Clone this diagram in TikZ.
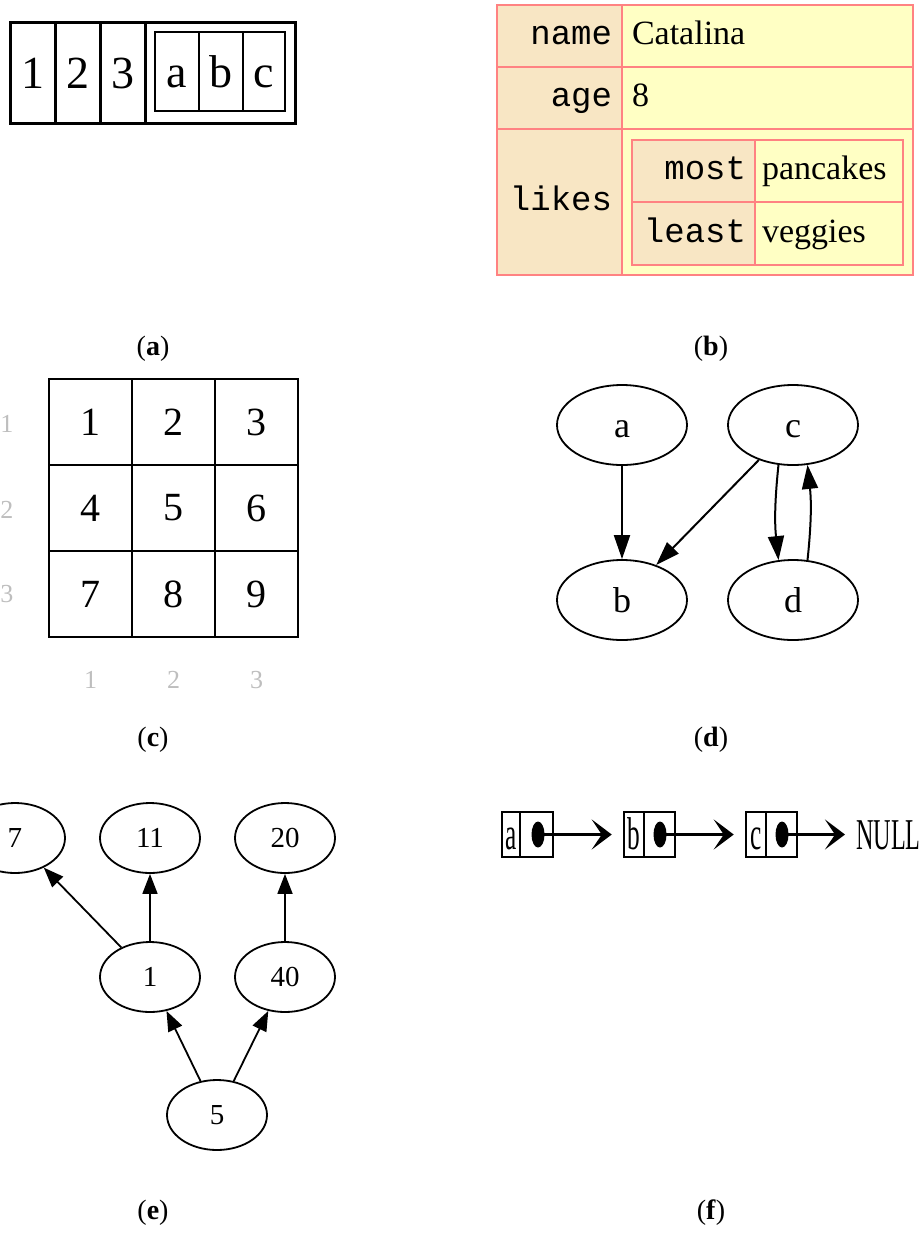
\documentclass[tikz,border=0pt]{standalone}
\usepackage{fontspec}
\setmainfont{Liberation Serif}
\setmonofont{Liberation Mono}
\newfontfamily\narrowfont[FakeStretch=0.55]{Liberation Serif}
\usetikzlibrary{arrows.meta,shapes.geometric}
\definecolor{tabline}{RGB}{255,130,130}
\definecolor{tabkey}{RGB}{248,230,196}
\definecolor{tabval}{RGB}{255,255,196}
\definecolor{gridgray}{RGB}{190,190,190}
\newcommand{\px}[1]{\fontsize{#1}{#1}\selectfont}

\begin{document}
\begin{tikzpicture}[
		x=1pt, y=-1pt,
		arrcell/.style={draw, line width=3pt, inner sep=0pt, minimum height=101pt, text height=31pt, text depth=0pt, font=\px{46}},
		subcell/.style={draw, line width=2.5pt, inner sep=0pt, minimum height=79pt, text height=31pt, text depth=0pt, font=\px{46}},
		keycell/.style={draw=tabline, fill=tabkey, line width=2pt, inner sep=0pt, text height=24pt, text depth=7pt, align=right, font=\ttfamily\px{34}},
		valcell/.style={draw=tabline, fill=tabval, line width=2pt, inner sep=0pt, text height=24pt, text depth=7pt, align=left, font=\px{34}},
		gridcell/.style={draw, line width=2.5pt, minimum width=83pt, minimum height=86pt, inner sep=0pt, font=\px{40}},
		gridlabel/.style={text=gridgray, font=\px{26}},
		gnode/.style={ellipse, draw, line width=1.8pt, inner sep=0pt},
		dnode/.style={gnode, minimum width=130pt, minimum height=80pt, text height=24pt, text depth=0pt, font=\px{36}},
		enode/.style={gnode, minimum width=100pt, minimum height=70pt, font=\px{29}},
		garrow/.style={-{Triangle[length=20pt,width=15pt]}, line width=1.8pt},
		darrow/.style={-{Triangle[length=24pt,width=16pt]}, line width=2pt},
		lcell/.style={draw, line width=2.5pt, inner sep=0pt, minimum height=45pt, text height=29pt, text depth=0pt, font=\narrowfont\px{46}},
		ptr/.style={ellipse, fill=black, inner sep=0pt, minimum width=13pt, minimum height=26pt},
		larrow/.style={-{Stealth[length=20pt,width=30pt,inset=10pt]}, line width=2.5pt, shorten >=11pt},
		caption/.style={font=\px{28}}
	]
	\useasboundingbox (0,0) rectangle (919,1243);

	% (a)
	\node[arrcell, minimum width=45pt] (a1) at (32.5,72.5) {1};
	\node[arrcell, minimum width=45.5pt] (a2) at (77.75,72.5) {2};
	\node[arrcell, minimum width=45pt] (a3) at (123,72.5) {3};
	\node[arrcell, minimum width=149.5pt] (aout) at (220.25,72.5) {};
	\node[subcell, minimum width=44pt] (aa) at (177,71.5) {a};
	\node[subcell, minimum width=44pt] (ab) at (221,71.5) {b};
	\node[subcell, minimum width=42pt] (ac) at (264,71.5) {c};

	% (b)
	\node[keycell, minimum width=125pt, minimum height=62pt, text width=105pt] (kname) at (559.5,36) {name};
	\node[valcell, minimum width=291pt, minimum height=62pt, text width=271pt] (vname) at (767.5,36) {Catalina};
	\node[keycell, minimum width=125pt, minimum height=62pt, text width=105pt] (kage) at (559.5,98) {age};
	\node[valcell, minimum width=291pt, minimum height=62pt, text width=271pt] (vage) at (767.5,98) {8};
	\node[keycell, minimum width=125pt, minimum height=146pt, text width=105pt] (klikes) at (559.5,202) {likes};
	\node[valcell, minimum width=291pt, minimum height=146pt] (vlikes) at (767.5,202) {};
	\node[keycell, minimum width=123pt, minimum height=62pt, text width=105pt] (kmost) at (693.5,171) {most};
	\node[valcell, minimum width=148pt, minimum height=62pt, text width=134pt] (vmost) at (829,171) {pancakes};
	\node[keycell, minimum width=123pt, minimum height=63pt, text width=105pt] (kleast) at (693.5,233.5) {least};
	\node[valcell, minimum width=148pt, minimum height=63pt, text width=134pt] (vleast) at (829,233.5) {veggies};

	% (c)
	\node[gridcell] (g1) at (90.5,422) {1};
	\node[gridcell] (g2) at (173.5,422) {2};
	\node[gridcell] (g3) at (256.5,422) {3};
	\node[gridcell] (g4) at (90.5,508) {4};
	\node[gridcell] (g5) at (173.5,508) {5};
	\node[gridcell] (g6) at (256.5,508) {6};
	\node[gridcell] (g7) at (90.5,594) {7};
	\node[gridcell] (g8) at (173.5,594) {8};
	\node[gridcell] (g9) at (256.5,594) {9};
	\node[gridlabel] (rl1) at (7,424) {1};
	\node[gridlabel] (rl2) at (7,510) {2};
	\node[gridlabel] (rl3) at (7,594) {3};
	\node[gridlabel] (cl1) at (90.5,680) {1};
	\node[gridlabel] (cl2) at (173.5,680) {2};
	\node[gridlabel] (cl3) at (256.5,680) {3};

	% (d)
	\node[dnode] (da) at (622,425) {a};
	\node[dnode] (dc) at (793,425) {c};
	\node[dnode] (db) at (622,600) {b};
	\node[dnode] (dd) at (793,600) {d};
	\draw[darrow] (da) -- (db);
	\draw[darrow] (dc) -- (db);
	\draw[darrow] (dc.-110) to[bend right=6] (dd.110);
	\draw[darrow] (dd.70) to[bend right=6] (dc.-70);

	% (e)
	\node[enode] (t7) at (15,838) {7};
	\node[enode] (t11) at (150,838) {11};
	\node[enode] (t20) at (285,838) {20};
	\node[enode] (t1) at (150,977) {1};
	\node[enode] (t40) at (285,977) {40};
	\node[enode] (t5) at (217,1115) {5};
	\draw[garrow] (t1) -- (t7);
	\draw[garrow] (t1) -- (t11);
	\draw[garrow] (t40) -- (t20);
	\draw[garrow] (t5) -- (t1);
	\draw[garrow] (t5) -- (t40);

	% (f)
	\node[lcell, minimum width=18pt] (la) at (511,834.5) {a};
	\node[lcell, minimum width=33pt] (lap) at (536.5,834.5) {};
	\node[ptr] (lad) at (538,834.5) {};
	\node[lcell, minimum width=20pt] (lb) at (634,834.5) {b};
	\node[lcell, minimum width=31pt] (lbp) at (659.5,834.5) {};
	\node[ptr] (lbd) at (660,834.5) {};
	\node[lcell, minimum width=20pt] (lc) at (756,834.5) {c};
	\node[lcell, minimum width=31pt] (lcp) at (781.5,834.5) {};
	\node[ptr] (lcd) at (782,834.5) {};
	\node[anchor=west, inner sep=0pt, text height=29pt, text depth=0pt, font=\narrowfont\px{44}] (null) at (856,834.5) {NULL};
	\draw[larrow] (lad.center) -- (lb.west);
	\draw[larrow] (lbd.center) -- (lc.west);
	\draw[larrow] (lcd.center) -- (null.west);

	% captions
	\node[caption] (capa) at (153,349) {(\textbf{a})};
	\node[caption] (capb) at (711,349) {(\textbf{b})};
	\node[caption] (capc) at (153,740) {(\textbf{c})};
	\node[caption] (capd) at (711,740) {(\textbf{d})};
	\node[caption] (cape) at (153,1213) {(\textbf{e})};
	\node[caption] (capf) at (711,1213) {(\textbf{f})};
\end{tikzpicture}
\end{document}
